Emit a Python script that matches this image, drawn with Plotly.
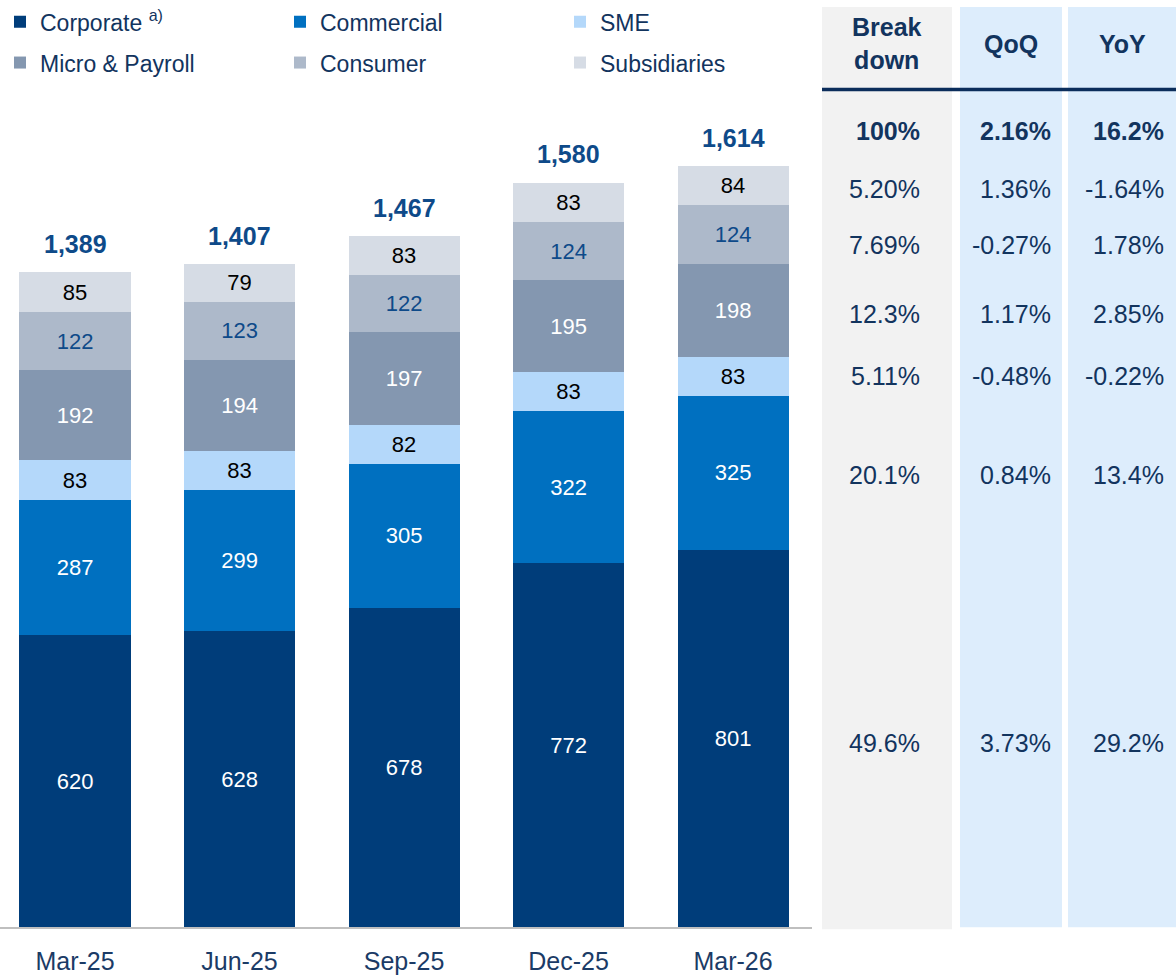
import plotly.graph_objects as go

W, H = 1176, 976

QUARTERS = ["Mar-25", "Jun-25", "Sep-25", "Dec-25", "Mar-26"]
CORPORATE = [620, 628, 678, 772, 801]
COMMERCIAL = [287, 299, 305, 322, 325]
SME = [83, 83, 82, 83, 83]
MICRO_PAYROLL = [192, 194, 197, 195, 198]
CONSUMER = [122, 123, 122, 124, 124]
SUBSIDIARIES = [85, 79, 83, 83, 84]
TOTALS = [1389, 1407, 1467, 1580, 1614]

# side table, rows in segment order (bottom of the stack first)
BREAKDOWN = ["49.6%", "20.1%", "5.11%", "12.3%", "7.69%", "5.20%"]
QOQ = ["3.73%", "0.84%", "-0.48%", "1.17%", "-0.27%", "1.36%"]
YOY = ["29.2%", "13.4%", "-0.22%", "2.85%", "1.78%", "-1.64%"]
TOTAL_ROW = ["100%", "2.16%", "16.2%"]
HEADERS = ["Break<br>down", "QoQ", "YoY"]

NAVY = "#003D7A"
TEXT = "#12345E"
LABEL = "#0E4A89"
FONT = "Arial, Liberation Sans, sans-serif"

# name, values, fill, label colour, legend
SEGMENTS = [
    ("Corporate <sup>a)</sup>", CORPORATE, NAVY, "white", "legend"),
    ("Commercial", COMMERCIAL, "#0070C0", "white", "legend"),
    ("SME", SME, "#B4D8FA", "black", "legend"),
    ("Micro & Payroll", MICRO_PAYROLL, "#8497B0", "white", "legend2"),
    ("Consumer", CONSUMER, "#ADB9CA", LABEL, "legend2"),
    ("Subsidiaries", SUBSIDIARIES, "#D6DCE5", "black", "legend2"),
]

# pixel -> paper helpers (margins are zero, so paper = whole page)
def px(x):
    return x / W


def py(y):
    return 1 - y / H


fig = go.Figure()
for name, vals, color, tcolor, leg in SEGMENTS:
    fig.add_trace(go.Bar(
        x=QUARTERS, y=vals, name=name, legend=leg,
        marker=dict(color=color, line=dict(width=0)),
        text=vals, texttemplate="%{text}", textposition="inside",
        insidetextanchor="middle", textangle=0, constraintext="none",
        textfont=dict(family=FONT, size=22, color=tcolor),
        hoverinfo="x+y+name",
    ))

for q, t in zip(QUARTERS, TOTALS):
    fig.add_annotation(x=q, y=t, xref="x", yref="y", text=f"<b>{t:,}</b>",
                       showarrow=False, yanchor="bottom", yshift=12,
                       font=dict(family=FONT, size=25, color=LABEL))

# table backgrounds
shapes = [
    dict(type="rect", xref="paper", yref="paper", x0=px(822), x1=px(952), y0=py(929), y1=1,
         fillcolor="#F2F2F2", line=dict(width=0), layer="below"),
    dict(type="rect", xref="paper", yref="paper", x0=px(960), x1=px(1062), y0=py(927), y1=1,
         fillcolor="#DDEDFC", line=dict(width=0), layer="below"),
    dict(type="rect", xref="paper", yref="paper", x0=px(1068), x1=px(1176), y0=py(927), y1=1,
         fillcolor="#DDEDFC", line=dict(width=0), layer="below"),
    dict(type="line", xref="paper", yref="paper", x0=px(822), x1=1, y0=py(83), y1=py(83),
         line=dict(color="#0B2D5B", width=3.5)),
]
fig.update_layout(shapes=shapes)

COL_CENTER = [887, 1011, 1122]
COL_RIGHT = [922, 1053, 1166]
ROW_Y = [744, 474, 375, 312, 243, 186]
TABLE_FONT = dict(family=FONT, size=25, color=TEXT)

for cx, head in zip(COL_CENTER, HEADERS):
    fig.add_annotation(x=px(cx), y=py(41), xref="paper", yref="paper", text=f"<b>{head}</b>",
                       showarrow=False, xanchor="center", yanchor="middle", yshift=4,
                       font=TABLE_FONT)

for xr, val in zip(COL_RIGHT, TOTAL_ROW):
    fig.add_annotation(x=px(xr), y=py(128), xref="paper", yref="paper", text=f"<b>{val}</b>",
                       showarrow=False, xanchor="right", yanchor="middle", yshift=3,
                       font=TABLE_FONT)

for col, xr in zip([BREAKDOWN, QOQ, YOY], COL_RIGHT):
    for val, ry in zip(col, ROW_Y):
        fig.add_annotation(x=px(xr), y=py(ry), xref="paper", yref="paper", text=val,
                           showarrow=False, xanchor="right", yanchor="middle", yshift=3,
                           font=TABLE_FONT)

legend_style = dict(orientation="h", xanchor="left", yanchor="middle", x=0,
                    entrywidth=235, traceorder="normal", bgcolor="rgba(0,0,0,0)",
                    font=dict(family=FONT, size=23, color=TEXT))

fig.update_layout(
    width=W, height=H,
    margin=dict(l=0, r=0, t=0, b=0),
    barmode="stack", bargap=0.325,
    plot_bgcolor="white", paper_bgcolor="white",
    font=dict(family=FONT, color=TEXT),
    showlegend=True,
    legend=dict(y=py(15), **legend_style),
    legend2=dict(y=py(56), **legend_style),
    xaxis=dict(domain=[0, px(812)], range=[-0.456, 4.48], automargin=False,
               showline=True, linecolor="#BFBFBF", linewidth=2,
               ticks="outside", ticklen=11, tickcolor="rgba(0,0,0,0)",
               tickfont=dict(family=FONT, size=25, color="#1B3B66"),
               showgrid=False, zeroline=False, fixedrange=True),
    yaxis=dict(domain=[49 / H, 1], range=[0, 927 / 0.475], visible=False,
               automargin=False, fixedrange=True),
)

# the page body has a default 8px margin; drop it so the figure fills the window
fig.write_html("out.html", config={"displayModeBar": False},
               post_script="document.body.style.margin='0';")
